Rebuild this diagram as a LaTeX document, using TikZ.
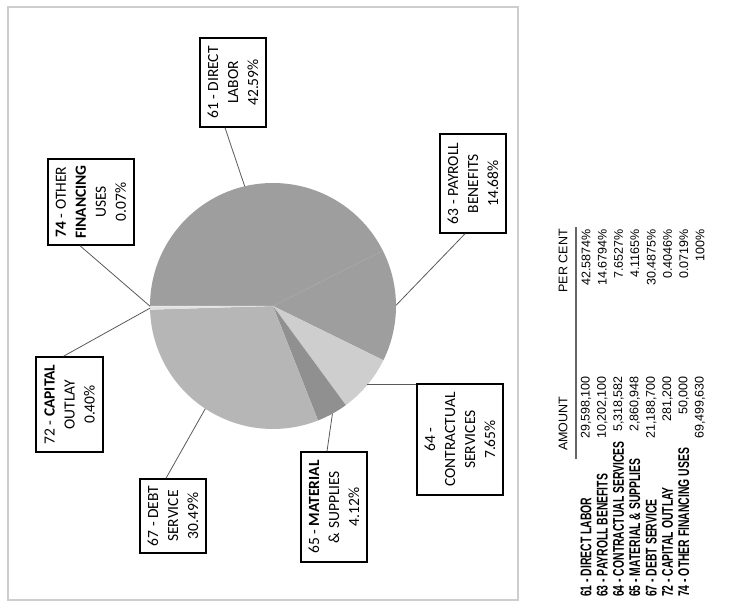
\documentclass[tikz,border=0pt]{standalone}
\usepackage{fontspec}
\setmainfont{Carlito}
\newfontfamily\tabfont{Liberation Sans}
\usetikzlibrary{positioning}
\definecolor{slicedark}{RGB}{158,158,158}
\definecolor{slicedebt}{RGB}{182,182,182}
\definecolor{slicelight}{RGB}{206,206,206}
\definecolor{slicemat}{RGB}{144,144,144}
\definecolor{slicepale}{RGB}{225,225,225}
\definecolor{framegray}{RGB}{205,205,205}
\newcommand{\narrow}[1]{\scalebox{0.67}[1]{#1}}
\newcommand{\boxfont}{\fontsize{15.5pt}{20pt}\selectfont}
\newcommand{\rowfont}{\tabfont\fontsize{12.5pt}{15pt}\selectfont}
\newcommand{\labfont}{\tabfont\bfseries\fontsize{15.5pt}{17pt}\selectfont}
\tikzset{callout/.style = {draw, line width=1.5pt, rotate=90, inner sep=0, align=center,
    font=\boxfont}}
\tikzset{leader/.style = {draw=black!65, line width=0.8pt}}
\tikzset{rowlabel/.style = {rotate=90, anchor=west, inner sep=0, font=\labfont}}
\tikzset{rownum/.style = {rotate=90, anchor=east, inner sep=0, font=\rowfont}}

\begin{document}
\begin{tikzpicture}[x=1pt, y=1pt]
    \useasboundingbox (0, 0) rectangle (750, 611);
    \draw [framegray, line width=1.5pt] (8, 11) rectangle (518, 604);

    % pie
    \coordinate (c) at (273, 305);
    \foreach \a/\b/\col in {180/26.69/slicedark, 26.69/-26.16/slicedark,
        -26.16/-53.71/slicelight, -53.71/-68.53/slicemat, -68.53/-178.29/slicedebt,
        -178.29/-179.74/slicepale, -179.74/-180/slicepale}
      \fill [\col] (c) -- ++(\a:123pt) arc [start angle=\a, end angle=\b, radius=123pt] -- cycle;

    \coordinate (e61) at ([shift={(103.3:123pt)}]c);
    \coordinate (e63) at ([shift={(0.3:123pt)}]c);
    \coordinate (e64) at ([shift={(-39.9:123pt)}]c);
    \coordinate (e65) at ([shift={(-61.1:123pt)}]c);
    \coordinate (e67) at ([shift={(-123.4:123pt)}]c);
    \coordinate (e72) at ([shift={(-179:123pt)}]c);
    \coordinate (e74) at ([shift={(-179.9:123pt)}]c);

    % callouts
    \node [callout, minimum width=89pt, minimum height=66pt] (b61) at (233, 528.5)
      {61 - DIRECT\\LABOR\\42.59\%};
    \node [callout, minimum width=99pt, minimum height=66pt] (b63) at (473, 427.5)
      {63 - PAYROLL\\BENEFITS\\14.68\%};
    \node [callout, minimum width=111pt, minimum height=86pt] (b64) at (460, 171.5)
      {64 -\\CONTRACTUAL\\SERVICES\\7.65\%};
    \node [callout, minimum width=110pt, minimum height=66pt] (b65) at (334, 104)
      {65 - \textbf{MATERIAL}\\\& SUPPLIES\\4.12\%};
    \node [callout, minimum width=74pt, minimum height=66pt] (b67) at (173, 95)
      {67 - DEBT\\SERVICE\\30.49\%};
    \node [callout, minimum width=95pt, minimum height=67pt] (b72) at (69.5, 206.5)
      {72 - \textbf{CAPITAL}\\OUTLAY\\0.40\%};
    \node [callout, minimum width=86pt, minimum height=86pt] (b74) at (91, 409)
      {\textbf{74} - OTHER\\\textbf{FINANCING}\\USES\\0.07\%};

    \draw [leader] ([xshift=-8pt]b61.west) -- (e61);
    \draw [leader] ([xshift=-8pt]b63.west) -- (e63);
    \draw [leader] (e64) -- (e64 -| b64.north);
    \draw [leader] ([xshift=-7pt]b65.east) -- (e65);
    \draw [leader] ([xshift=-7pt]b67.east) -- (e67);
    \draw [leader] ([xshift=-6pt]b72.east) -- (e72);
    \draw [leader] ([xshift=-11pt]b74.west) -- (e74);

    % table
    \node [rownum, anchor=west] (hamt) at (563, 160) {AMOUNT};
    \node [rownum] (hpct) at (563, 382) {PER CENT};
    \coordinate (rule1) at (576, 152);
    \coordinate (rule2) at (576, 384);
    \draw [black!60, line width=1.2pt] (rule1) -- (rule2);

    \foreach \lab/\amt/\pct [count=\i from 0] in {
        {61 - DIRECT LABOR}/{29,598,100}/{42.5874\%},
        {63 - PAYROLL BENEFITS}/{10,202,100}/{14.6794\%},
        {64 - CONTRACTUAL SERVICES}/{5,318,582}/{7.6527\%},
        {65 - MATERIAL \& SUPPLIES}/{2,860,948}/{4.1165\%},
        {67 - DEBT SERVICE}/{21,188,700}/{30.4875\%},
        {72 - CAPITAL OUTLAY}/{281,200}/{0.4046\%},
        {74 - OTHER FINANCING USES}/{50,000}/{0.0719\%}} {
      \node [rowlabel] (lab\i) at ({586 + 16.3*\i}, 14) {\narrow{\lab}};
      \node [rownum] (amt\i) at ({586 + 16.3*\i}, 235) {\amt};
      \node [rownum] (pct\i) at ({586 + 16.3*\i}, 382) {\pct};
    }
    \node [rownum] (amttot) at (700, 235) {69,499,630};
    \node [rownum] (pcttot) at (700, 382) {100\%};
  \end{tikzpicture}
\end{document}
